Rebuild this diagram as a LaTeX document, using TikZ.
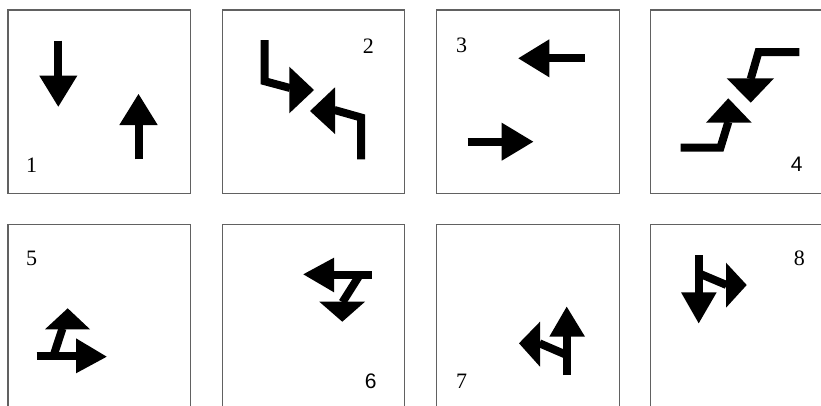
\documentclass[tikz,border=0pt]{standalone}
\usepackage{fontspec}
\setmainfont{Liberation Serif}
\newfontfamily\sansdig{Liberation Sans}
\begin{document}
\begin{tikzpicture}[x=1pt,y=-1pt,
  panel/.style={draw=black!62,line width=1.1pt},
  shaft/.style={line width=8pt,line cap=butt,line join=miter},
  head/.style={fill=black,draw=none},
  lbl/.style={inner sep=0pt,font=\fontsize{22}{22}\selectfont}]
\clip (0,0) rectangle (821,405);
\fill[white] (0,0) rectangle (821,405);
% panels
\foreach \i/\j in {0/0,1/0,2/0,3/0,0/1,1/1,2/1,3/1}{
  \draw[panel] ({8+214.3*\i},{10+214.3*\j}) rectangle ++(182.5,183.5);
}
% ---- box 1
\draw[shaft] (58.3,40.7) -- (58.3,76.5);
\fill[head] (39.3,75.7) -- (77.3,75.7) -- (58.3,106.7) -- cycle;
\draw[shaft] (138.8,159.3) -- (138.8,124.5);
\fill[head] (119.3,125) -- (157.7,125) -- (138.5,94) -- cycle;
\node[lbl] (l1) at (31.7,165.7) {1};
% ---- box 2
\draw[shaft] (264.7,40) -- (264.7,81.2) -- (290,88);
\fill[head] (289.3,66.7) -- (289.3,113.3) -- (314,90) -- cycle;
\draw[shaft] (361,159.3) -- (361,117.5) -- (334.5,110);
\fill[head] (335,87.3) -- (335,134) -- (310,111) -- cycle;
\node[lbl] (l2) at (368.3,46.7) {2};
% ---- box 3
\draw[shaft] (548.5,58.3) -- (585,58.3);
\fill[head] (549.3,39.3) -- (549.3,77.3) -- (518.3,58.3) -- cycle;
\draw[shaft] (467.7,141.7) -- (502.5,141.7);
\fill[head] (501.7,122.7) -- (501.7,160.7) -- (533.3,141.7) -- cycle;
\node[lbl] (l3) at (461.7,45) {3};
% ---- box 4
\draw[shaft] (799.3,52) -- (758.5,52) -- (750.7,79);
\fill[head] (726.7,78.3) -- (774,78.3) -- (750.7,102.7) -- cycle;
\draw[shaft] (680.7,147.5) -- (720.5,147.5) -- (728.3,122);
\fill[head] (706,122.7) -- (751.7,122.7) -- (728.3,98.3) -- cycle;
\node[lbl,font=\sansdig\fontsize{21}{21}\selectfont] (l4) at (796.7,164.3) {4};
% ---- box 5
\draw[shaft] (62.5,328.5) -- (53.3,356.3);
\draw[shaft] (36.7,356.3) -- (76.5,356.3);
\fill[head] (45,329.3) -- (90,329.3) -- (67.7,308.3) -- cycle;
\fill[head] (76,338.3) -- (76,373.3) -- (106.7,356.7) -- cycle;
\node[lbl] (l5) at (31.7,258.3) {5};
% ---- box 6
\draw[shaft] (333.5,274.5) -- (372.3,274.5);
\draw[shaft] (360,274.5) -- (342.5,302.2);
\fill[head] (334,257.7) -- (334,292.3) -- (303.3,274.3) -- cycle;
\fill[head] (319.3,301.7) -- (365,301.7) -- (342.3,321.7) -- cycle;
\node[lbl,font=\sansdig\fontsize{21}{21}\selectfont] (l6) at (370.7,381) {6};
% ---- box 7
\draw[shaft] (566.7,375) -- (566.7,336);
\draw[shaft] (566.7,355) -- (539.5,343.3);
\fill[head] (549.3,336.7) -- (585,336.7) -- (566.7,306.7) -- cycle;
\fill[head] (540,321.7) -- (540,366.7) -- (519,343.3) -- cycle;
\node[lbl] (l7) at (461.7,381.7) {7};
% ---- box 8
\draw[shaft] (698.8,255) -- (698.8,293);
\draw[shaft] (698.8,273.3) -- (726.5,285);
\fill[head] (681,292.3) -- (716.7,292.3) -- (698.7,323.3) -- cycle;
\fill[head] (726,262.7) -- (726,307.7) -- (746.7,285) -- cycle;
\node[lbl] (l8) at (799.3,258.3) {8};
\end{tikzpicture}
\end{document}
